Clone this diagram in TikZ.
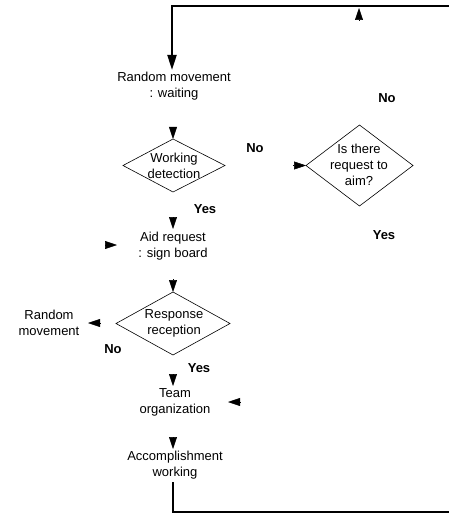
\documentclass[tikz,border=0pt]{standalone}
\usepackage{fontspec}
\setmainfont{Liberation Sans}
\usetikzlibrary{arrows.meta}
\begin{document}
\begin{tikzpicture}[x=1pt,y=-1pt,
  txt/.style={align=center,inner sep=0pt,font=\fontsize{13}{16}\selectfont},
  lbl/.style={inner sep=0pt,font=\fontsize{13}{16}\selectfont\bfseries},
  dia/.style={draw=black,line width=0.6pt},
  tip/.style={-{Triangle[length=12pt,width=8pt]},line width=0.5pt},
  thick line/.style={line width=2pt}]
\useasboundingbox (0,0) rectangle (448,513);
% process nodes
\node[txt] (rm) at (174,86) {Random movement\\: waiting};
\node[txt] (wd) at (174,165.5) {Working\\detection};
\node[txt] (isr) at (359,165) {Is there\\request to\\aim?};
\node[txt] (ar) at (173,246) {Aid request\\: sign board};
\node[txt] (rr) at (174,323) {Response\\reception};
\node[txt] (rmv) at (49,323) {Random\\movement};
\node[txt] (to) at (175,402) {Team\\organization};
\node[txt] (aw) at (175,465) {Accomplishment\\working};
% labels
\node[lbl] (no1) at (387,98) {No};
\node[lbl] (no2) at (255,148) {No};
\node[lbl] (yes1) at (205,209) {Yes};
\node[lbl] (yes2) at (384,235) {Yes};
\node[lbl] (no3) at (113,349) {No};
\node[lbl] (yes3) at (199,368) {Yes};
% diamonds
\coordinate (wdN) at (173,139); \coordinate (wdS) at (173,192);
\coordinate (wdW) at (123,165.5); \coordinate (wdE) at (225,165.5);
\draw[dia] (wdN) -- (wdE) -- (wdS) -- (wdW) -- cycle;
\coordinate (isN) at (359.5,125); \coordinate (isS) at (359.5,206);
\coordinate (isW) at (306,165.5); \coordinate (isE) at (413,165.5);
\draw[dia] (isN) -- (isE) -- (isS) -- (isW) -- cycle;
\coordinate (rrN) at (173,292); \coordinate (rrS) at (173,355);
\coordinate (rrW) at (116,323.5); \coordinate (rrE) at (230,323.5);
\draw[dia] (rrN) -- (rrE) -- (rrS) -- (rrW) -- cycle;
% box anchors
\coordinate (rmN) at (172,70);
\coordinate (arN) at (173,229); \coordinate (arW) at (117,245);
\coordinate (toN) at (173,386); \coordinate (toE) at (228,402);
\coordinate (awN) at (173,449); \coordinate (awS) at (173,482);
\coordinate (rmvE) at (88,323);
% arrow bases (lines faded in the original)
\coordinate (b1) at (173,127);
\coordinate (b2) at (293,165.5);
\coordinate (b3) at (359,20); \coordinate (t3) at (359,8);
\coordinate (b4) at (173,217);
\coordinate (b5) at (105,245);
\coordinate (b6) at (173,279);
\coordinate (b7) at (100,323);
\coordinate (b8) at (173,374);
\coordinate (b9) at (240,402);
\coordinate (b10) at (173,437);
% thick loop lines
\coordinate (topR) at (450,6); \coordinate (topL) at (172,6);
\coordinate (botL) at (173,512); \coordinate (botR) at (450,512);
\draw[thick line,-{Triangle[length=15pt,width=9pt]}] (topR) -- (topL) -- (rmN);
\draw[thick line] (awS) -- (botL) -- (botR);
% arrowheads
\draw[tip] (b1) -- (wdN);
\draw[tip] (b2) -- (isW);
\draw[tip] (b3) -- (t3);
\draw[tip] (b4) -- (arN);
\draw[tip] (b5) -- (arW);
\draw[tip] (b6) -- (rrN);
\draw[tip] (b7) -- (rmvE);
\draw[tip] (b8) -- (toN);
\draw[tip] (b9) -- (toE);
\draw[tip] (b10) -- (awN);
\end{tikzpicture}
\end{document}
